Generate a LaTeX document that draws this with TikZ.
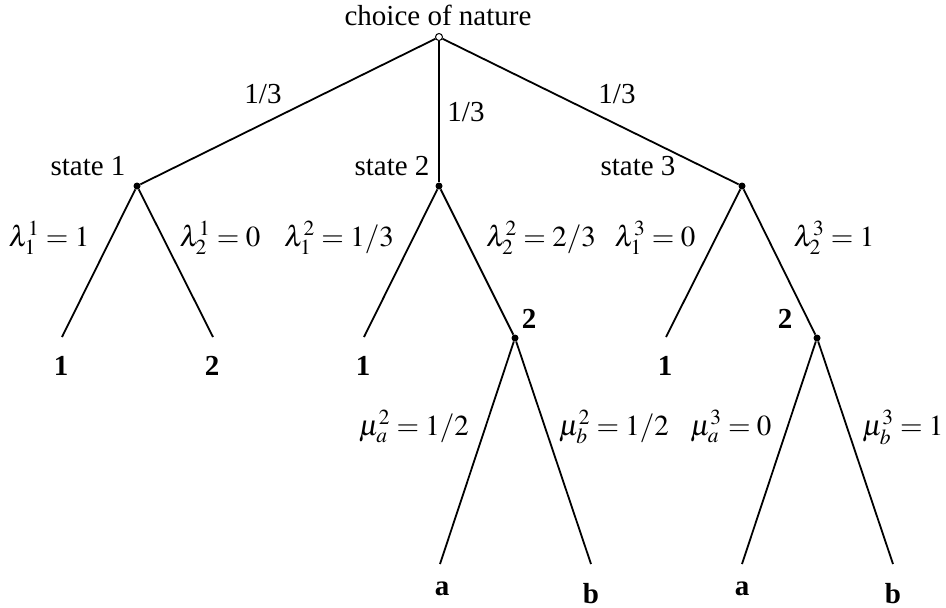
\documentclass[tikz,border=0pt]{standalone}
\usepackage{mathptmx}
\usepackage[no-math]{fontspec}
\setmainfont{Liberation Serif}
\begin{document}
\begin{tikzpicture}[x=1pt,y=-1pt,
  font=\fontsize{29}{34}\selectfont,
  edge/.style={line width=1.8pt},
  chance/.style={circle,draw,fill=white,line width=1pt,inner sep=0pt,minimum size=7pt},
  dec/.style={circle,fill=black,inner sep=0pt,minimum size=7pt},
  lbl/.style={anchor=base,inner sep=0pt},
  plbl/.style={anchor=base,inner sep=0pt,font=\fontsize{29}{34}\selectfont\bfseries}]
\useasboundingbox (0,0) rectangle (946,608);
% vertices
\node[chance] (root) at (439,37) {};
\node[dec] (s1) at (137,186) {};
\node[dec] (s2) at (439,186) {};
\node[dec] (s3) at (742,186) {};
\node[dec] (n22) at (515,338) {};
\node[dec] (n32) at (817,338) {};
\coordinate (l11) at (62,337);
\coordinate (l12) at (213,337);
\coordinate (l21) at (364,337);
\coordinate (l31) at (666,337);
\coordinate (a2) at (440,564);
\coordinate (b2) at (591,564);
\coordinate (a3) at (742,564);
\coordinate (b3) at (893,564);
% edges
\draw[edge] (root) -- (s1);
\draw[edge] (root) -- (s2);
\draw[edge] (root) -- (s3);
\draw[edge] (s1) -- (l11);
\draw[edge] (s1) -- (l12);
\draw[edge] (s2) -- (l21);
\draw[edge] (s2) -- (n22);
\draw[edge] (s3) -- (l31);
\draw[edge] (s3) -- (n32);
\draw[edge] (n22) -- (a2);
\draw[edge] (n22) -- (b2);
\draw[edge] (n32) -- (a3);
\draw[edge] (n32) -- (b3);
% labels
\node[lbl] (tn) at (438,25) {choice of nature};
\node[lbl] (p1) at (263,103) {1/3};
\node[lbl] (p2) at (466,121) {1/3};
\node[lbl] (p3) at (617,103) {1/3};
\node[lbl] (t1) at (88,175) {state 1};
\node[lbl] (t2) at (392,175) {state 2};
\node[lbl] (t3) at (638,175) {state 3};
\node[lbl] (la11) at (49,246) {$\lambda_1^1=1$};
\node[lbl] (la12) at (220,246) {$\lambda_2^1=0$};
\node[lbl] (la21) at (339,246) {$\lambda_1^2=1/3$};
\node[lbl] (la22) at (541,246) {$\lambda_2^2=2/3$};
\node[lbl] (la31) at (655,246) {$\lambda_1^3=0$};
\node[lbl] (la32) at (834,246) {$\lambda_2^3=1$};
\node[lbl] (mu2a) at (414,435) {$\mu_a^2=1/2$};
\node[lbl] (mu2b) at (614,435) {$\mu_b^2=1/2$};
\node[lbl] (mu3a) at (731,435) {$\mu_a^3=0$};
\node[lbl] (mu3b) at (903,435) {$\mu_b^3=1$};
\node[plbl] (q11) at (61,375) {1};
\node[plbl] (q12) at (212,375) {2};
\node[plbl] (q21) at (363,375) {1};
\node[plbl] (q31) at (665,375) {1};
\node[plbl] (q22) at (529,328) {2};
\node[plbl] (q32) at (785,328) {2};
\node[plbl] (qa2) at (442,595) {a};
\node[plbl] (qb2) at (591,603) {b};
\node[plbl] (qa3) at (742,595) {a};
\node[plbl] (qb3) at (893,603) {b};
\end{tikzpicture}
\end{document}
